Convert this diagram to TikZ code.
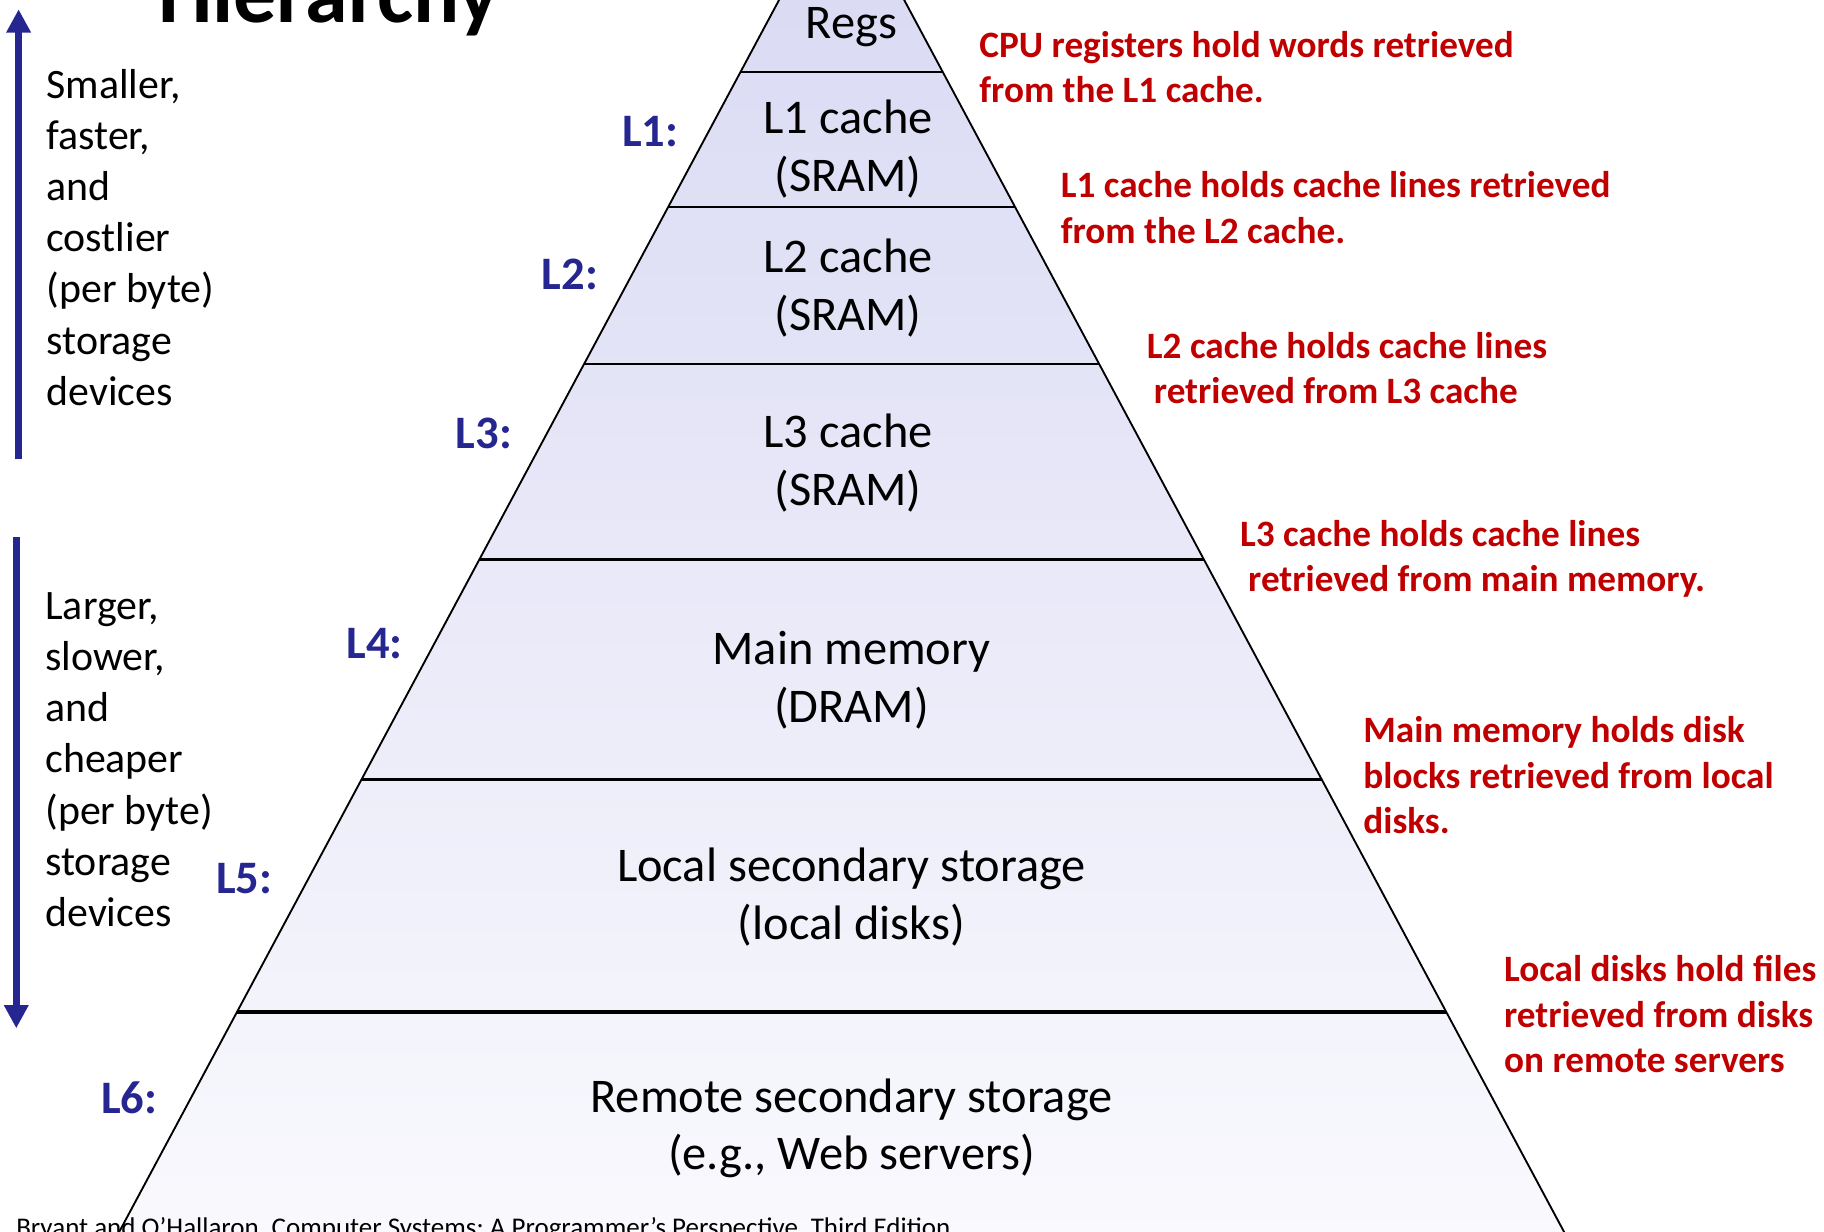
\documentclass[tikz,border=0pt]{standalone}
\usepackage{fontspec}
\setmainfont{Carlito}
\usetikzlibrary{arrows.meta,calc}
\definecolor{lvlblue}{HTML}{262690}
\definecolor{notered}{HTML}{C00000}
\definecolor{pyrtop}{HTML}{D8D8F3}
\definecolor{pyrbot}{HTML}{FAFAFE}
\tikzset{
  every node/.style={inner sep=0pt, outer sep=0pt},
  leveltext/.style={align=center, font=\fontsize{20.8}{24.9}\selectfont},
  sidetext/.style={align=left, anchor=west, font=\fontsize{18}{22}\selectfont},
  lvllabel/.style={text=lvlblue, font=\fontsize{20}{24}\selectfont\bfseries},
  note/.style={align=left, anchor=west, text=notered, font=\fontsize{16}{19.5}\selectfont\bfseries},
  divider/.style={line width=1pt},
  thickdivider/.style={line width=1.4pt},
  edge/.style={line width=0.8pt},
  bigarrow/.style={draw=lvlblue, line width=3pt, -{Triangle[width=10pt,length=10pt]}}
}
\begin{document}
\frenchspacing
\begin{tikzpicture}[x=0.5pt,y=-0.5pt]
\useasboundingbox (0,0) rectangle (1568,1059);
\clip (0,0) rectangle (1568,1059);
% pyramid
\coordinate (apex) at (723.5,-100.4);
\coordinate (bl) at (80.5,1100);
\coordinate (br) at (1366.5,1100);
\shade[top color=pyrtop, bottom color=pyrbot] (apex) -- (bl) -- (br) -- cycle;
\draw[edge] (bl) -- (apex) -- (br);
% dividers
\coordinate (d1l) at (636.5,62);  \coordinate (d1r) at (810.5,62);
\coordinate (d2l) at (574.4,178); \coordinate (d2r) at (872.6,178);
\coordinate (d3l) at (502.1,313); \coordinate (d3r) at (944.9,313);
\coordinate (d4l) at (412.1,481); \coordinate (d4r) at (1034.9,481);
\coordinate (d5l) at (310.9,670); \coordinate (d5r) at (1136.1,670);
\coordinate (d6l) at (203.7,870); \coordinate (d6r) at (1243.3,870);
\draw[divider] (d1l) -- (d1r);
\draw[divider] (d2l) -- (d2r);
\draw[divider] (d3l) -- (d3r);
\draw[divider] (d4l) -- (d4r);
\draw[divider] (d5l) -- (d5r);
\draw[thickdivider] (d6l) -- (d6r);
% level texts
\node[leveltext] (regs) at (732,23) {Regs};
\node[leveltext] (l1) at (729,128) {L1 cache\\(SRAM)};
\node[leveltext] (l2) at (729,248) {L2 cache\\(SRAM)};
\node[leveltext] (l3) at (729,398) {L3 cache\\(SRAM)};
\node[leveltext] (l4) at (732,585) {Main memory\\(DRAM)};
\node[leveltext] (l5) at (732,771) {Local secondary storage\\(local disks)};
\node[leveltext] (l6) at (732,970) {Remote secondary storage\\(e.g., Web servers)};
% level labels
\node[lvllabel] (lab1) at (559,113) {L1:};
\node[lvllabel] (lab2) at (490,236) {L2:};
\node[lvllabel] (lab3) at (416,373) {L3:};
\node[lvllabel] (lab4) at (322,553) {L4:};
\node[lvllabel] (lab5) at (210,755) {L5:};
\node[lvllabel] (lab6) at (111,944) {L6:};
% notes
\node[note] (n0) at (842,57.5) {CPU registers hold words retrieved\\from the L1 cache.};
\node[note] (n1) at (912,178.5) {L1 cache holds cache lines retrieved\\from the L2 cache.};
\node[note] (n2) at (986,316.5) {L2 cache holds cache lines\\\hspace*{3pt}retrieved from L3 cache};
\node[note] (n3) at (1066,480.5) {L3 cache holds cache lines\\\hspace*{3.5pt}retrieved from main memory.};
\node[note] (n4) at (1172,666.5) {Main memory holds disk\\blocks retrieved from local\\disks.};
\node[note] (n5) at (1293,872) {Local disks hold files\\retrieved from disks\\on remote servers};
% side texts and arrows
\node[sidetext] (up) at (40,204) {Smaller,\\faster,\\and\\costlier\\(per byte)\\storage\\devices};
\node[sidetext] (down) at (39,653) {Larger,\\slower,\\and\\cheaper\\(per byte)\\storage\\devices};
\coordinate (ua) at (16,395); \coordinate (ub) at (16,8);
\coordinate (da) at (14,462); \coordinate (db) at (14,884);
\draw[bigarrow] (ua) -- (ub);
\draw[bigarrow] (da) -- (db);
% title (cut off) and footer
\node[anchor=base west, font=\fontsize{37}{44}\selectfont\bfseries] (title) at (136,19) {Hierarchy};
\node[anchor=base west, font=\fontsize{11.6}{14}\selectfont] (foot) at (14,1063) {Bryant and O’Hallaron, Computer Systems: A Programmer’s Perspective, Third Edition};
\end{tikzpicture}
\end{document}
